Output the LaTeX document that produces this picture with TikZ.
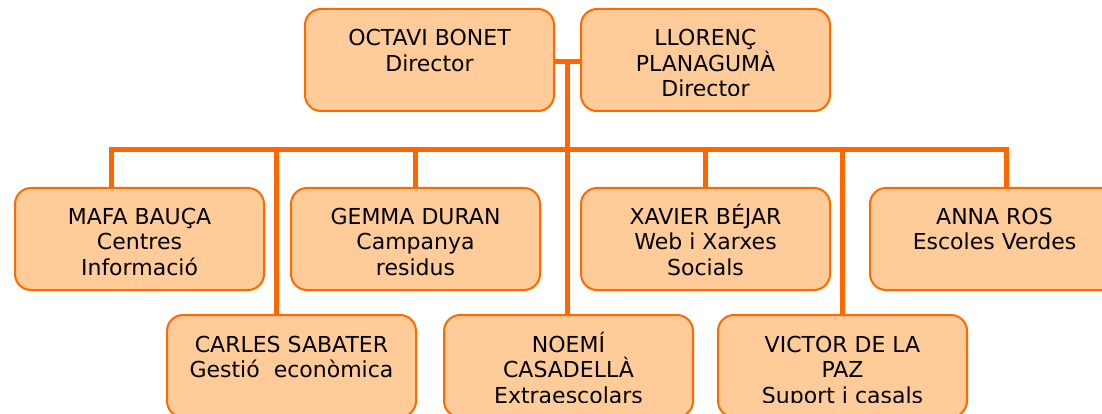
\documentclass[tikz,border=0pt]{standalone}
\usepackage{fontspec}
\setmainfont{DejaVu Sans}
\usetikzlibrary{backgrounds}
\definecolor{boxfill}{HTML}{FFCC99}
\definecolor{boxline}{HTML}{FF6A00}
\definecolor{conncol}{HTML}{FF6600}
\newcommand{\boxlines}[1]{\vtop{\fontsize{22}{25.5}\selectfont\halign{\hfil##\hfil\cr#1\crcr}}}
\begin{document}
\begin{tikzpicture}[x=1pt,y=-1pt,
  orgbox/.style={draw=boxline, line width=2pt, fill=boxfill, rounded corners=16pt,
    minimum width=249pt, minimum height=102pt, inner sep=0pt, anchor=north west},
  conn/.style={draw=conncol, line width=5pt},
  lbl/.style={anchor=base, inner sep=0pt, text=black}]
\useasboundingbox (0,0) rectangle (1102,414);
% boxes
\node[orgbox] (octavi)  at (304,8) {};
\node[orgbox] (llorenc) at (580,8) {};
\node[orgbox] (mafa)    at (14,187) {};
\node[orgbox] (gemma)   at (290,187) {};
\node[orgbox] (xavier)  at (580,187) {};
\node[orgbox] (anna)    at (869,187) {};
\node[orgbox] (carles)  at (166,314) {};
\node[orgbox] (noemi)   at (443,314) {};
\node[orgbox] (victor)  at (717,314) {};
% connectors
\coordinate (hub) at (567,62);
\coordinate (barL) at (111,150);
\coordinate (barM) at (567,150);
\coordinate (barR) at (1006,150);
\coordinate (cdrop) at (276,150);
\begin{scope}[on background layer]
\draw[conn] (octavi.east |- hub) -- (llorenc.west |- hub);
\draw[conn] (hub) -- (barM);
\draw[conn, line join=miter] (mafa.north -| barL) -- (barL) -- (barR) -- (anna.north -| barR);
\draw[conn] (cdrop) -- (carles.north -| cdrop);
\draw[conn] (gemma.north |- barL) -- (gemma.north);
\draw[conn] (barM) -- (noemi.north -| barM);
\draw[conn] (xavier.north |- barL) -- (xavier.north);
\draw[conn] (victor.north |- barL) -- (victor.north);
\end{scope}
% texts (clipped to the text frames)
\begin{scope}
\clip (octavi.north west) rectangle ([yshift=16pt]octavi.south east)
      (llorenc.north west) rectangle ([yshift=16pt]llorenc.south east)
      (mafa.north west) rectangle ([yshift=16pt]mafa.south east)
      (gemma.north west) rectangle ([yshift=16pt]gemma.south east)
      (xavier.north west) rectangle ([yshift=16pt]xavier.south east)
      (anna.north west) rectangle ([yshift=16pt]anna.south east)
      (carles.north west) rectangle ([yshift=16pt]carles.south east)
      (noemi.north west) rectangle ([yshift=16pt]noemi.south east)
      (victor.north west) rectangle ([yshift=16pt]victor.south east);
\node[lbl] (t-octavi)  at ([yshift=-38pt]octavi.north)  {\boxlines{OCTAVI BONET\cr Director}};
\node[lbl] (t-llorenc) at ([yshift=-38pt]llorenc.north) {\boxlines{LLORENÇ\cr PLANAGUMÀ\cr Director}};
\node[lbl] (t-mafa)    at ([yshift=-37pt]mafa.north)    {\boxlines{MAFA BAUÇA\cr Centres\cr Informació}};
\node[lbl] (t-gemma)   at ([yshift=-37pt]gemma.north)   {\boxlines{GEMMA DURAN\cr Campanya\cr residus}};
\node[lbl] (t-xavier)  at ([yshift=-37pt]xavier.north)  {\boxlines{XAVIER BÉJAR\cr Web i Xarxes\cr Socials}};
\node[lbl] (t-anna)    at ([yshift=-37pt]anna.north)    {\boxlines{ANNA ROS\cr Escoles Verdes}};
\node[lbl] (t-carles)  at ([yshift=-38pt]carles.north)  {\boxlines{CARLES SABATER\cr Gestió\ \ econòmica}};
\node[lbl] (t-noemi)   at ([yshift=-38pt]noemi.north)   {\boxlines{NOEMÍ\cr CASADELLÀ\cr Extraescolars}};
\node[lbl] (t-victor)  at ([yshift=-38pt]victor.north)  {\boxlines{VICTOR DE LA\cr PAZ\cr Suport i casals}};
\end{scope}
\end{tikzpicture}
\end{document}
